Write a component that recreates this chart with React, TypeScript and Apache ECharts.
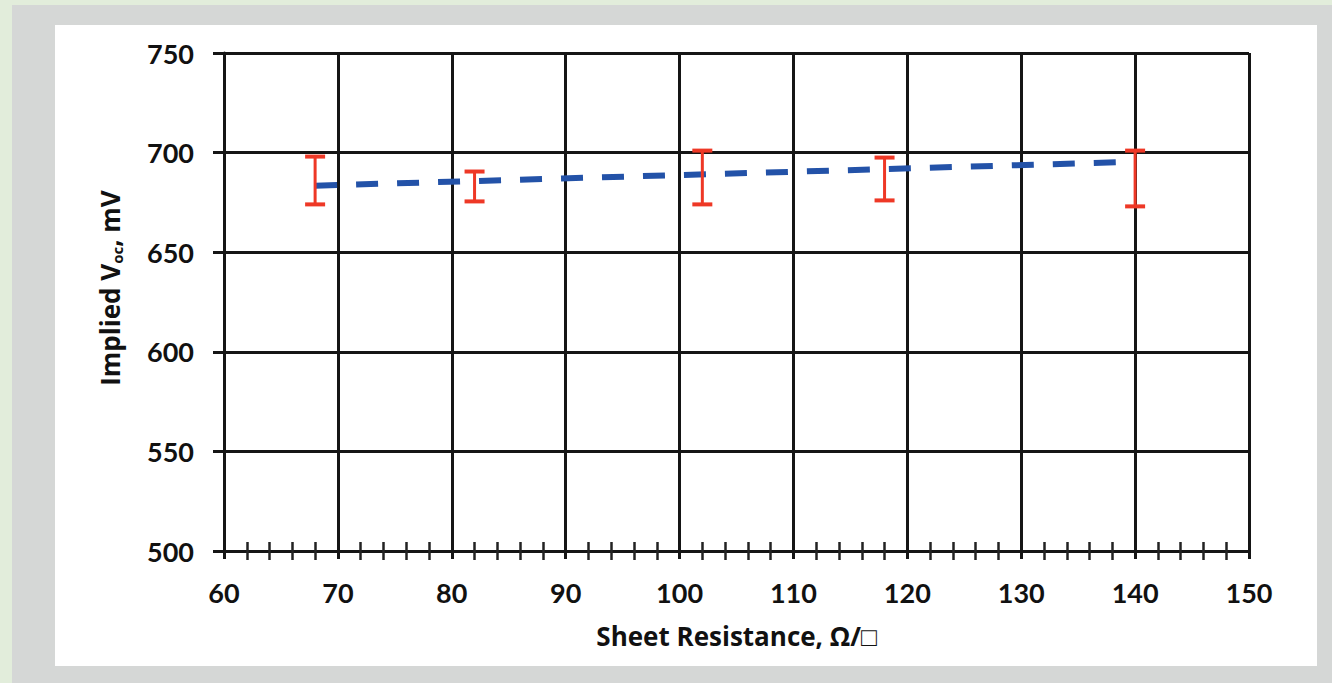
import React, { useEffect, useRef } from "react";
import * as echarts from "echarts";

const resistance = [68, 82, 102, 118, 140];
const vocLow = [674, 675.5, 674, 676, 673];
const vocHigh = [698, 690.5, 701, 697.5, 701];
const trendX = [68, 140];
const trendY = [683.4, 695.4];
const xTicks = [60, 150, 10];
const yTicks = [500, 750, 50];

const FONT = "Lato";
const TFONT = "Open Sans";

export default function App() {
  const ref = useRef<HTMLDivElement>(null);
  useEffect(() => {
    if (!ref.current) return;
    const chart = echarts.init(ref.current, null, { renderer: "svg" });
    const errData = resistance.map((x, i) => [x, vocLow[i], vocHigh[i]]);
    const gridColor = "#151515";
    const xBase = {
      type: "value",
      min: xTicks[0],
      max: xTicks[1],
      interval: xTicks[2],
      gridIndex: 0,
    };
    chart.setOption({
      animation: false,
      grid: { left: 224, top: 53, right: 83, bottom: 132, containLabel: false },
      xAxis: [
        {
          ...xBase,
          name: "Sheet Resistance, Ω/□",
          nameLocation: "middle",
          nameGap: 72,
          nameTextStyle: { fontFamily: TFONT, fontWeight: "bold", fontSize: 26, color: "#111" },
          axisLine: { show: true, lineStyle: { color: gridColor, width: 3 } },
          axisTick: { show: true, length: 8, lineStyle: { color: gridColor, width: 3 } },
          minorTick: { show: true, splitNumber: 5, length: 9, lineStyle: { color: "#222", width: 2.5 } },
          splitLine: { show: true, lineStyle: { color: gridColor, width: 3 } },
          axisLabel: { margin: 28, fontFamily: FONT, fontWeight: "bold", fontSize: 27, color: "#111" },
        },
        {
          ...xBase,
          position: "bottom",
          axisLine: { show: false },
          axisTick: { show: false, inside: true },
          minorTick: { show: true, splitNumber: 5, length: 9, lineStyle: { color: "#222", width: 2.5 } },
          splitLine: { show: false },
          axisLabel: { show: false },
        },
      ],
      yAxis: {
        type: "value",
        min: yTicks[0],
        max: yTicks[1],
        interval: yTicks[2],
        name: "Implied V{sub|oc}, mV",
        nameLocation: "middle",
        nameGap: 100,
        nameRotate: 90,
        nameTextStyle: {
          fontFamily: TFONT,
          fontWeight: "bold",
          fontSize: 26,
          color: "#111",
          padding: [0, 0, 0, 28],
          rich: {
            sub: { fontFamily: TFONT, fontWeight: "bold", fontSize: 15, color: "#111", verticalAlign: "bottom", padding: [14, 0, 0, 0] },
          },
        },
        axisLine: { show: true, lineStyle: { color: gridColor, width: 3 } },
        axisTick: { show: true, length: 11, lineStyle: { color: gridColor, width: 3 } },
        splitLine: { show: true, lineStyle: { color: gridColor, width: 3 } },
        axisLabel: { margin: 30, fontFamily: FONT, fontWeight: "bold", fontSize: 27, color: "#111" },
      },
      series: [
        {
          type: "line",
          data: trendX.map((x, i) => [x, trendY[i]]),
          showSymbol: false,
          symbol: "none",
          lineStyle: { color: "#2352a8", width: 6, type: [22, 19] },
          z: 5,
        },
        {
          type: "custom",
          data: errData,
          z: 6,
          renderItem: (params: any, api: any) => {
            const x = api.value(0);
            const lo = api.coord([x, api.value(1)]);
            const hi = api.coord([x, api.value(2)]);
            const hw = 10;
            const style = { stroke: "#ee3826", lineWidth: 3 };
            const capStyle = { stroke: "#ee3826", lineWidth: 4 };
            return {
              type: "group",
              children: [
                { type: "line", shape: { x1: lo[0], y1: lo[1], x2: hi[0], y2: hi[1] }, style },
                { type: "line", shape: { x1: lo[0] - hw, y1: lo[1], x2: lo[0] + hw, y2: lo[1] }, style: capStyle },
                { type: "line", shape: { x1: hi[0] - hw, y1: hi[1], x2: hi[0] + hw, y2: hi[1] }, style: capStyle },
              ],
            };
          },
        },
      ],
    });
    return () => chart.dispose();
  }, []);
  return (
    <div style={{ position: "fixed", left: 0, top: 0, width: 1332, height: 683, background: "#e2eddb" }}>
      <div style={{ position: "absolute", left: 12, top: 5, right: 0, bottom: 0, background: "#d5d7d6" }} />
      <div style={{ position: "absolute", left: 55, top: 25, width: 1262, height: 641, background: "#ffffff" }} />
      <div ref={ref} style={{ position: "absolute", left: 0, top: 0, width: 1332, height: 683 }} />
    </div>
  );
}
